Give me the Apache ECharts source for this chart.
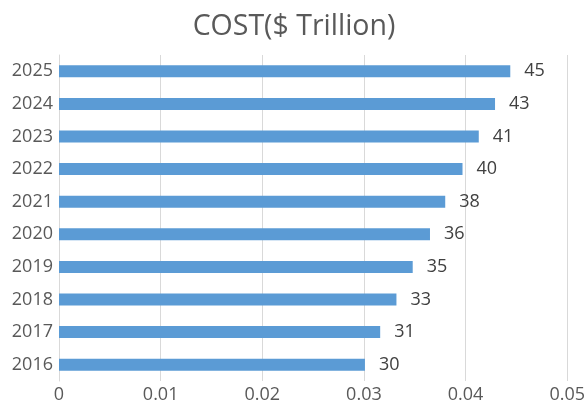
<!DOCTYPE html>
<html><head><meta charset="utf-8">
<script src="https://cdn.jsdelivr.net/npm/echarts@6/dist/echarts.min.js"></script>
<style>html,body{margin:0;padding:0;background:#fff}#c{width:588px;height:404px}</style>
</head><body><div id="c"></div>
<script>
const years = ['2016','2017','2018','2019','2020','2021','2022','2023','2024','2025'];
const costValues = [0.0301, 0.0316, 0.0332, 0.0348, 0.0365, 0.0380, 0.0397, 0.0413, 0.0429, 0.0444];
const costLabels = ['30','31','33','35','36','38','40','41','43','45'];
const xTicks = [0, 0.01, 0.02, 0.03, 0.04, 0.05];

const font = 'Open Sans';
const chart = echarts.init(document.getElementById('c'), null, {renderer: 'canvas'});
chart.setOption({
  animation: false,
  title: {
    text: 'COST($ Trillion)', left: 'center', top: 7,
    textStyle: {fontFamily: font, fontSize: 28.5, fontWeight: 'normal', color: '#595959'}
  },
  grid: {left: 59, right: 20, top: 55, bottom: 20, containLabel: false},
  xAxis: {
    type: 'value', min: 0, max: 0.05, interval: 0.01,
    axisLine: {show: false}, axisTick: {show: false},
    splitLine: {lineStyle: {color: '#d9d9d9', width: 1}},
    axisLabel: {fontFamily: font, fontSize: 18, color: '#595959', margin: 5,
      formatter: v => { const s = xTicks.find(t => Math.abs(t - v) < 1e-9); return s === 0 ? '0' : String(+v.toFixed(2)); }}
  },
  yAxis: {
    type: 'category', data: years,
    axisLine: {lineStyle: {color: '#d9d9d9'}}, axisTick: {show: false},
    axisLabel: {fontFamily: font, fontSize: 18, color: '#595959', margin: 6}
  },
  series: [{
    type: 'bar', data: costValues, barWidth: 12,
    itemStyle: {color: '#5b9bd5'},
    label: {show: true, position: 'right', distance: 14, fontFamily: font, fontSize: 18, color: '#404040',
      formatter: p => costLabels[p.dataIndex]}
  }]
});
</script></body></html>
